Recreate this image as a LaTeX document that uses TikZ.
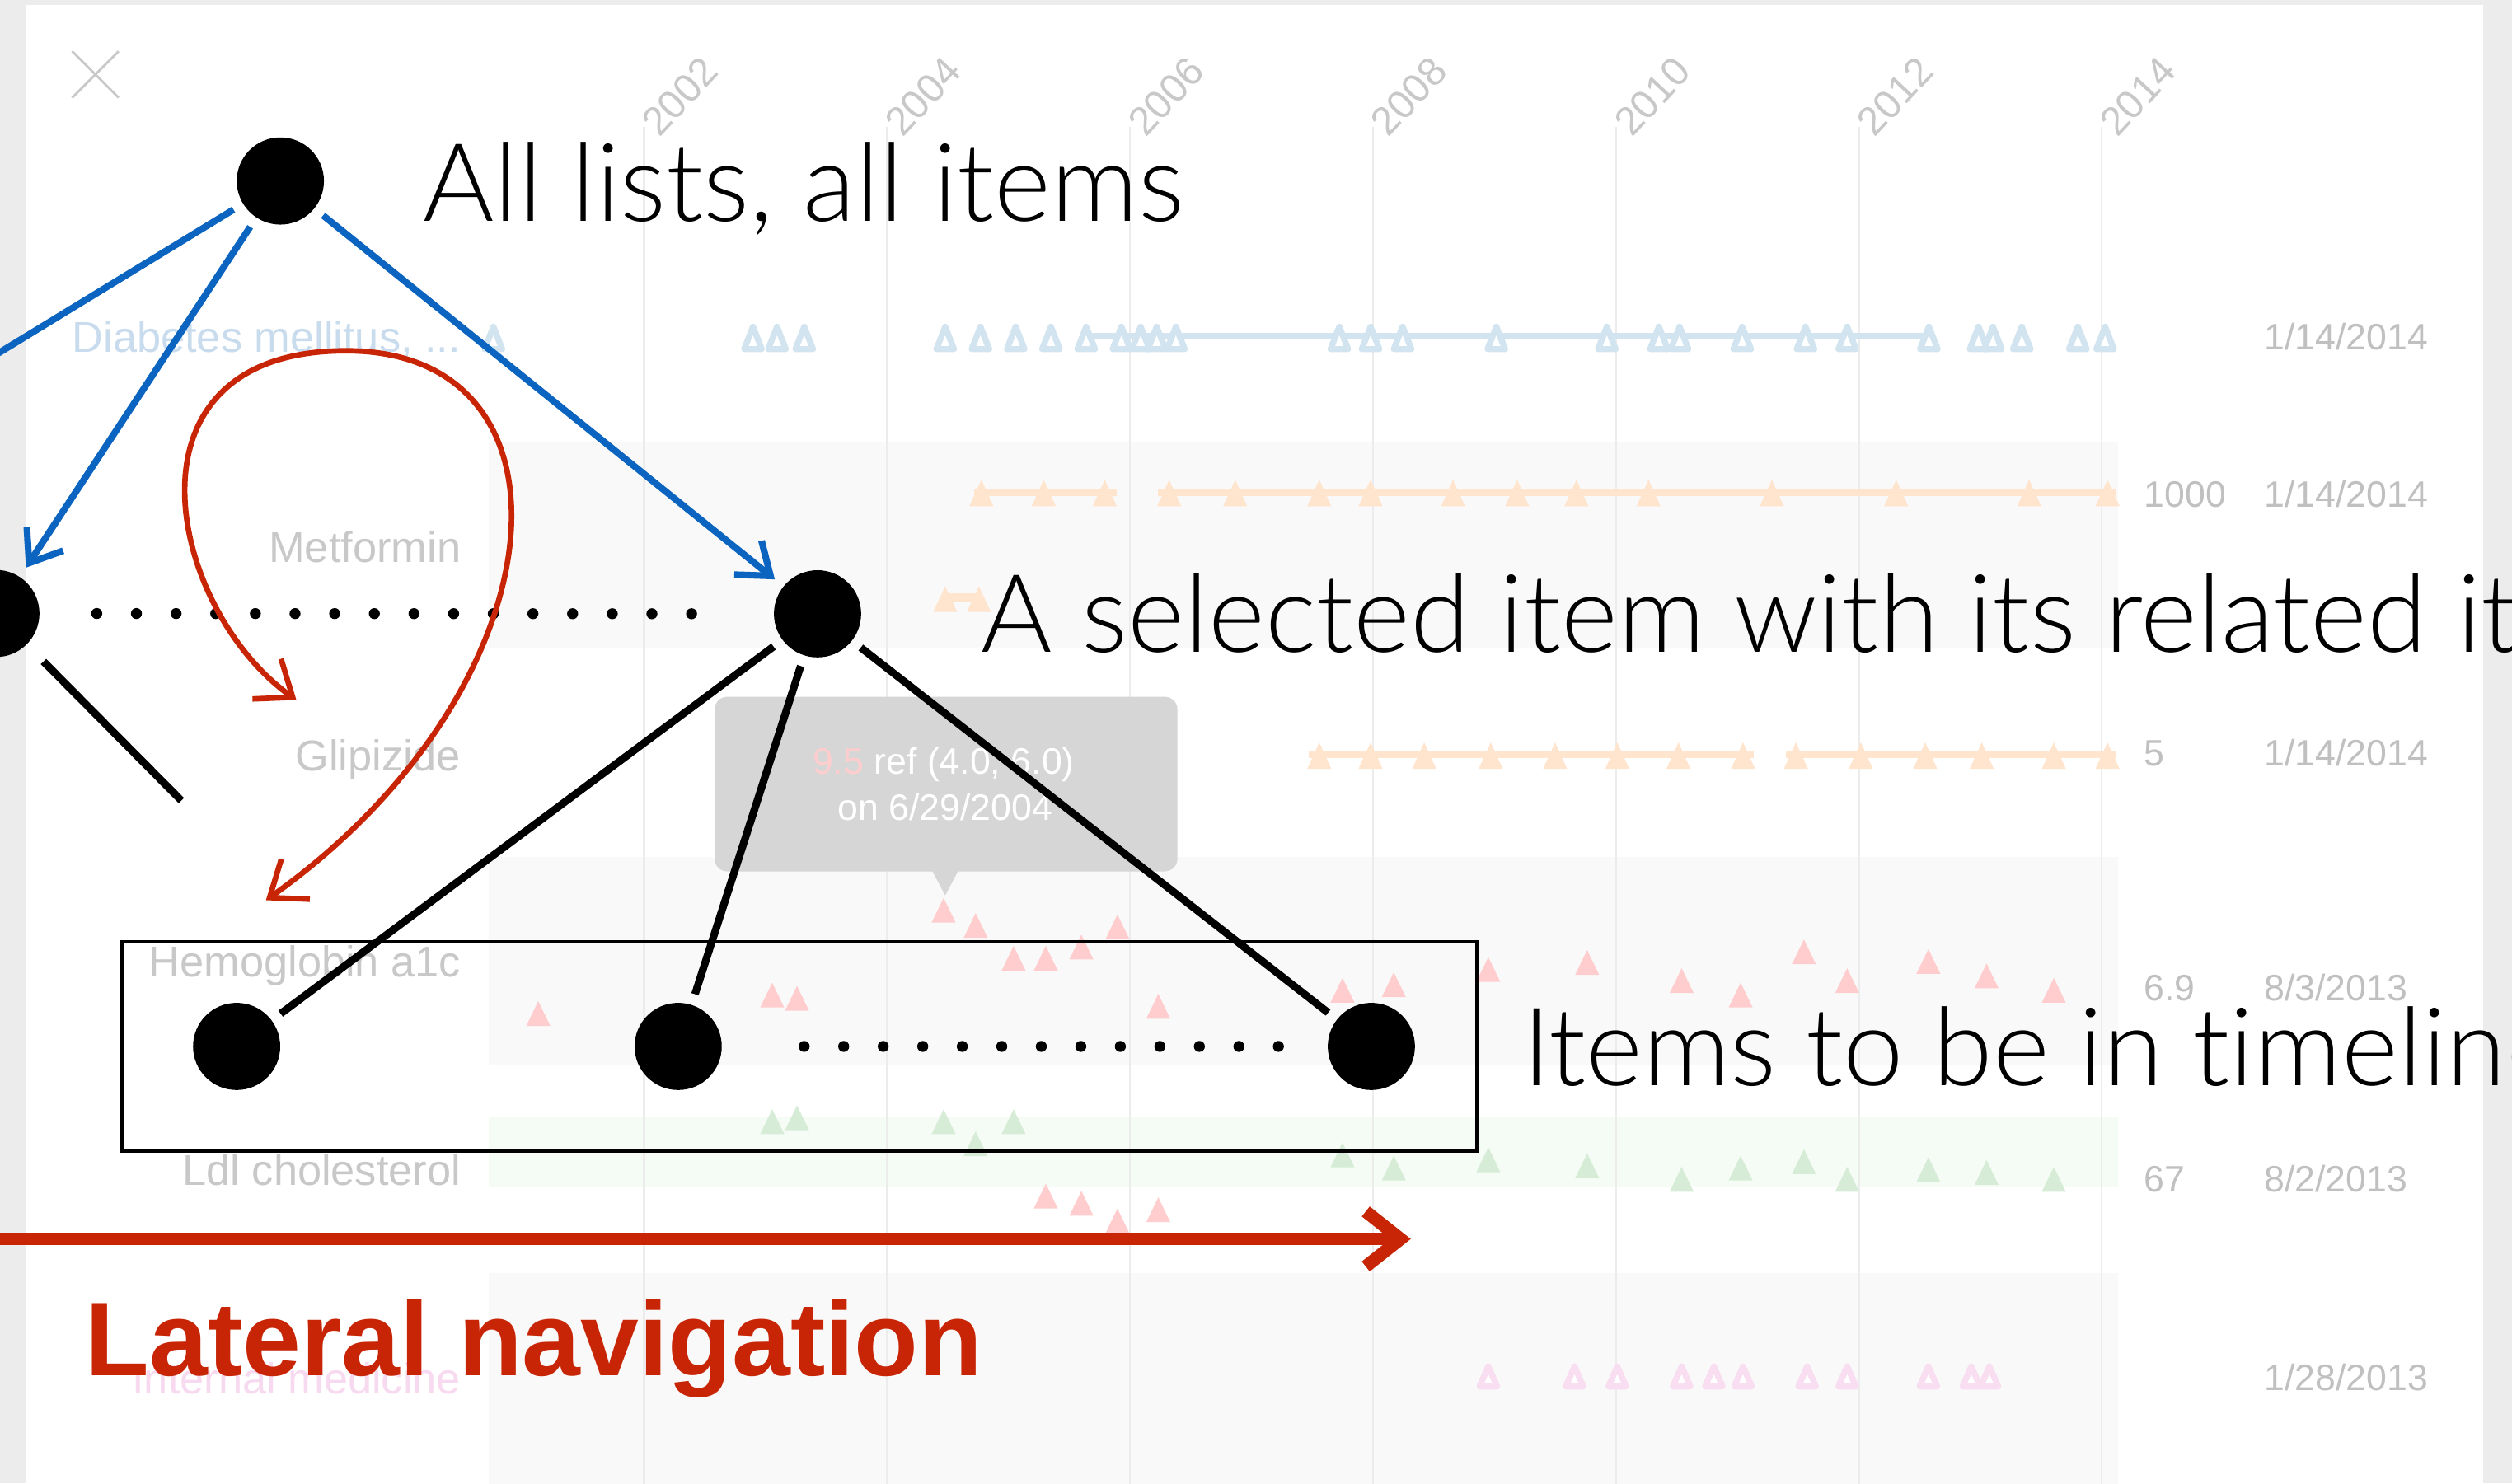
\documentclass[tikz,border=0pt]{standalone}
\usepackage{fontspec}
\setmainfont{Liberation Sans}
\newfontfamily\lightfont{Lato Light}[Ligatures=NoCommon]
\usetikzlibrary{arrows.meta}
\definecolor{bggray}{RGB}{236,236,236}
\definecolor{bandgray}{RGB}{249,249,249}
\definecolor{bandgreen}{RGB}{245,252,245}
\definecolor{gridgray}{RGB}{236,236,236}
\definecolor{labgray}{RGB}{200,200,200}
\definecolor{valgray}{RGB}{192,192,192}
\definecolor{labblue}{RGB}{200,220,238}
\definecolor{labpink}{RGB}{248,218,240}
\definecolor{triblue}{RGB}{210,228,240}
\definecolor{triorange}{RGB}{255,228,206}
\definecolor{trired}{RGB}{255,205,205}
\definecolor{trigreen}{RGB}{214,236,214}
\definecolor{tripink}{RGB}{248,222,240}
\definecolor{tipgray}{RGB}{214,214,214}
\definecolor{tipred}{RGB}{255,205,205}
\definecolor{navblue}{RGB}{10,100,192}
\definecolor{navred}{RGB}{200,37,6}
\newcommand\trifill[4]{\fill[#1] ({#2-7.5},{#3}) -- ({#2+7.5},{#3}) -- ({#2},{#3-#4}) -- cycle;}
\newcommand\triline[4]{\filldraw[draw=#1, fill=white, line width=2.1pt, line join=round] ({#2-5.5},{#3-2}) -- ({#2+5.5},{#3-2}) -- ({#2},{#3-#4+2}) -- cycle;}
\begin{document}
\begin{tikzpicture}[x=0.0194388cm, y=-0.0194388cm,
 dotnode/.style={circle, fill=black, inner sep=0pt, minimum size=30.1pt, outer sep=3.9pt},
 blueline/.style={draw=navblue, line width=2.3pt},
 bluearrow/.style={blueline, -{Straight Barb[length=10pt, width=15pt]}},
 blackline/.style={draw=black, line width=2.6pt},
 dotline/.style={draw=black, line width=3.8pt, line cap=round, dash pattern=on 0pt off 13.69pt},
 redcurve/.style={draw=navred, line width=1.9pt, {Straight Barb[length=11pt,width=17pt]}-{Straight Barb[length=11pt,width=17pt]}},
 latarrow/.style={draw=navred, line width=4.4pt, -{Straight Barb[length=12pt, width=19pt]}},
 bigtext/.style={anchor=base west, inner sep=0pt, font=\lightfont\fontsize{37.5pt}{40pt}\selectfont},
 lattext/.style={anchor=base west, inner sep=0pt, font=\fontsize{36.2pt}{40pt}\selectfont\bfseries, text=navred},
 rowlabel/.style={anchor=base east, inner sep=0pt, font=\fontsize{14.9pt}{17pt}\selectfont, text=labgray},
 valtext/.style={anchor=base west, inner sep=0pt, font=\fontsize{12.7pt}{15pt}\selectfont, text=valgray},
 yeartext/.style={anchor=south west, inner sep=0pt, rotate=47, font=\fontsize{13.8pt}{16pt}\selectfont, text=labgray},
 tipbox/.style={fill=tipgray, rounded corners=4.4pt, minimum width=159.8pt, minimum height=60.3pt, inner sep=0pt},
 tiptext/.style={anchor=base, inner sep=0pt, font=\fontsize{12.7pt}{15pt}\selectfont, text=white},
 selbox/.style={draw=black, line width=1.4pt, minimum width=467.9pt, minimum height=72.2pt, inner sep=0pt},
]
\useasboundingbox (0,0) rectangle (1568,926);
\clip (0,0) rectangle (1568,926);
% background
\fill[bggray] (0,0) rectangle (1568,926);
\fill[white] (16,3) rectangle (1550,930);
\fill[bandgray] (305,276) rectangle (1322,405);
\fill[bandgray] (305,535) rectangle (1322,665);
\fill[bandgreen] (305,697) rectangle (1322,741);
\fill[bandgray] (305,795) rectangle (1322,930);
\foreach \x in {402,553.7,705.4,857,1009,1160.5,1312} \draw[gridgray, line width=0.6pt] (\x,79) -- (\x,930);
\foreach \x/\yr in {402/2002,553.7/2004,705.4/2006,857/2008,1009/2010,1160.5/2012,1312/2014}
  \node[yeartext] (y\yr) at (\x+10,87) {\yr};
\draw[labgray, line width=0.8pt] (45,32) -- (74,61) (45,61) -- (74,32);
% row labels
\node[rowlabel, text=labblue] (l1) at (288,220) {Diabetes mellitus, ...};
\node[rowlabel] (l2) at (288,351) {Metformin};
\node[rowlabel] (l3) at (288,481) {Glipizide};
\node[rowlabel] (l4) at (288,609.6) {Hemoglobin a1c};
\node[rowlabel] (l5) at (288,740) {Ldl cholesterol};
\node[rowlabel, text=labpink] (l6) at (288,870) {Internal medicine};
% values
\node[valtext] (v1d) at (1413,218.6) {1/14/2014};
\node[valtext] (v2n) at (1338,316.4) {1000};
\node[valtext] (v2d) at (1413,316.4) {1/14/2014};
\node[valtext] (v3n) at (1338,478.4) {5};
\node[valtext] (v3d) at (1413,478.4) {1/14/2014};
\node[valtext] (v4n) at (1338,625) {6.9};
\node[valtext] (v4d) at (1413,625) {8/3/2013};
\node[valtext] (v5n) at (1338,744) {67};
\node[valtext] (v5d) at (1413,744) {8/2/2013};
\node[valtext] (v6d) at (1413,868) {1/28/2013};
% data
\draw[triblue, line width=2.2pt] (678,210) -- (1204,210);
\foreach \x in {308,470,485,502,590,612,634,656,678,700,712,722,734,836,855.5,875.5,934,1003,1035.5,1048.4,1087.5,1127,1153,1204,1235,1244,1262,1297,1314}
  {\triline{triblue}{\x}{220}{18}}
\draw[triorange, line width=2.65pt] (608,307.4) -- (697,307.4) (723,307.4) -- (1321,307.4);
\foreach \x in {612.6,651.5,689.6,729.8,771,823.5,855.5,907,947,984,1029,1106,1183.6,1266.6,1315.5}
  {\trifill{triorange}{\x}{316}{16.5}}
\draw[triorange, line width=2.65pt] (590,373) -- (611,373);
\foreach \x in {590,611} {\trifill{triorange}{\x}{382}{16}}
\draw[triorange, line width=2.65pt] (817,471) -- (1094.6,471) (1114.8,471) -- (1321,471);
\foreach \x in {823.5,855.5,889,930.5,970.7,1009.5,1047.7,1088,1121,1161.5,1201.7,1237,1282,1315.5}
  {\trifill{triorange}{\x}{480}{16.5}}
\foreach \x/\y in {589/576,609/585.5,632.7/606,652.8/606,675/599,697.5/586.4,336/640.5,482/629,497.5/631,723/636,838/626,870/622.5,929/613,990.7/608.6,1049.7/620,1086.5/629,1126/602,1153/620,1203.7/608,1240/617,1282/626,652.8/754.5,675/759,697.5/770,723/763}
  {\trifill{trired}{\x}{\y}{15.5}}
\foreach \x/\y in {482/708,497.5/705.6,589/708,609/721.8,632.7/708,838/728.8,870/737,929/731.8,990.7/735.6,1049.7/744,1086.5/737,1126/733,1153/744,1203.7/738,1240/739.8,1282/744}
  {\trifill{trigreen}{\x}{\y}{15.5}}
\foreach \x in {929,982.8,1009.5,1049.7,1069.8,1088,1128,1153,1203.7,1230.5,1241.8}
  {\triline{tripink}{\x}{867.6}{16.5}}
% tooltip
\node[tipbox] (tip) at (590.5,489.5) {};
\fill[tipgray] (581,542) -- (599,542) -- (590,559) -- cycle;
\node[tiptext] (tip1) at (589,483.5) {\textcolor{tipred}{9.5} ref (4.0, 6.0)};
\node[tiptext] (tip2) at (590,512) {on 6/29/2004};
% foreground diagram
\node[dotnode] (A) at (175,113) {};
\node[dotnode] (B) at (-2.6,383) {};
\node[dotnode] (C) at (510.3,383.2) {};
\node[dotnode] (D) at (147.7,653.3) {};
\node[dotnode] (E) at (423.3,653.3) {};
\node[dotnode] (F) at (856,653.3) {};
\coordinate (offL) at (-10,226);
\coordinate (stub) at (113.2,499.8);
\coordinate (latS) at (-10,773.5);
\coordinate (latE) at (880.6,773.5);
\coordinate (loopS) at (166,562);
\coordinate (loopT) at (216,219);
\coordinate (loopE) at (185,437);
\draw[blueline] (A) -- (offL);
\draw[bluearrow] (A) -- (B);
\draw[bluearrow] (A) -- (C);
\draw[blackline, shorten <=4.4pt] (B) -- (stub);
\draw[blackline] (C) -- (D);
\draw[blackline] (C) -- (E);
\draw[blackline] (C) -- (F);
\draw[dotline, shorten <=15.9pt, shorten >=24.06pt] (B) -- (C);
\draw[dotline, dash pattern=on 0pt off 13.644pt, shorten <=24.56pt, shorten >=12.55pt] (E) -- (F);
\node[selbox] (box) at (499,653.25) {};
\draw[redcurve] (loopS) .. controls (352,430) and (368,219) .. (loopT) .. controls (70,219) and (105,380) .. (loopE);
\draw[latarrow] (latS) -- (latE);
\node[bigtext] (t1) at (264,138) {All lists, all items};
\node[bigtext] (t2) at (612,407) {A selected item with its related items};
\node[bigtext] (t3) at (950,678) {Items to be in timeline};
\node[lattext] (t4) at (53,859) {Lateral navigation};
\end{tikzpicture}
\end{document}
